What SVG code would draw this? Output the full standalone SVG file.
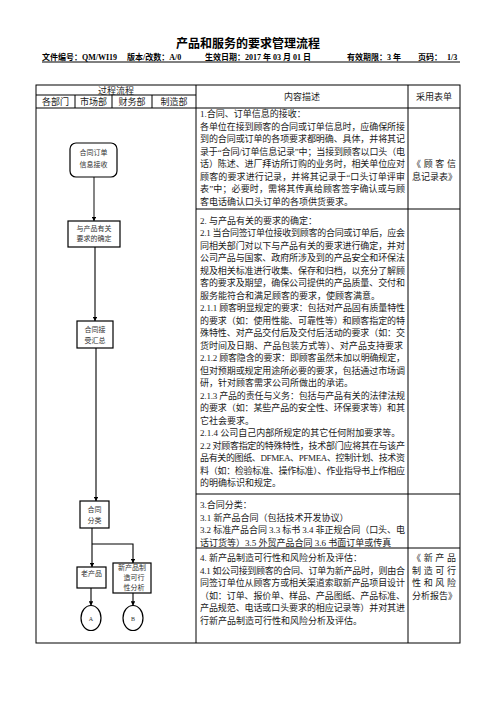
<svg xmlns="http://www.w3.org/2000/svg" width="496" height="702" viewBox="0 0 496 702">
<defs>
<style>
.t{font-family:"Liberation Serif","Noto Sans CJK SC",serif;font-size:9px;fill:#1a1a1a}
.h{font-family:"Liberation Serif","Noto Sans CJK SC",serif;font-size:9px;fill:#1a1a1a;text-anchor:middle}
.s{font-family:"Liberation Serif","Noto Sans CJK SC",serif;font-size:7px;fill:#333;text-anchor:middle}
.hd{font-family:"Liberation Serif","Noto Sans CJK SC",serif;font-size:8px;font-weight:bold;fill:#000}
.ti{font-family:"Liberation Serif","Noto Sans CJK SC",serif;font-size:12px;font-weight:bold;fill:#000;text-anchor:middle}
.ln{stroke:#000;stroke-width:1;fill:none}
.bx{stroke:#000;stroke-width:1.2;fill:#fff}
.cn{stroke:#000;stroke-width:1.1;fill:none}
</style>
<marker id="ah" viewBox="0 0 8 8" refX="7.5" refY="4" markerWidth="4.5" markerHeight="4.5" orient="auto" markerUnits="userSpaceOnUse">
<path d="M0,0 L8,4 L0,8 z" fill="#000"/>
</marker>
</defs>
<rect width="496" height="702" fill="#fff"/>

<g id="title">
<text class="ti" x="248" y="48">产品和服务的要求管理流程</text>
<text class="hd" x="42" y="60">文件编号：QM/WI19</text>
<text class="hd" x="127" y="60">版本/改数：A/0</text>
<text class="hd" x="205" y="60">生效日期：2017 年 03 月 01 日</text>
<text class="hd" x="347" y="60">有效期限：3 年</text>
<text class="hd" x="418" y="60">页码：</text>
<text class="hd" x="447" y="60">1/3</text>
<line class="ln" x1="42" y1="62" x2="460" y2="62"/>
</g>

<g id="table">
<rect class="ln" x="36" y="85" width="424" height="558"/>
<line class="ln" x1="196" y1="85" x2="196" y2="643"/>
<line class="ln" x1="408" y1="85" x2="408" y2="643"/>
<line class="ln" x1="36" y1="95" x2="196" y2="95"/>
<line class="ln" x1="36" y1="108" x2="460" y2="108"/>
<line class="ln" x1="75" y1="95" x2="75" y2="108"/>
<line class="ln" x1="112" y1="95" x2="112" y2="108"/>
<line class="ln" x1="152" y1="95" x2="152" y2="108"/>
<line class="ln" x1="196" y1="209" x2="460" y2="209"/>
<line class="ln" x1="196" y1="494" x2="460" y2="494"/>
<line class="ln" x1="196" y1="548" x2="460" y2="548"/>
<text class="h" x="116" y="93.5">过程流程</text>
<text class="h" x="55.5" y="105">各部门</text>
<text class="h" x="93.5" y="105">市场部</text>
<text class="h" x="132" y="105">财务部</text>
<text class="h" x="174" y="105">制造部</text>
<text class="h" x="302" y="99.5">内容描述</text>
<text class="h" x="434" y="99.5">采用表单</text>
</g>

<g id="content">
<text class="t" x="200" y="117">1.合同、订单信息的接收：</text>
<text class="t" x="200" y="129.5" textLength="205" lengthAdjust="spacing">各单位在接到顾客的合同或订单信息时，应确保所接</text>
<text class="t" x="200" y="142" textLength="205" lengthAdjust="spacing">到的合同或订单的各项要求都明确、具体，并将其记</text>
<text class="t" x="200" y="154.5" textLength="205" lengthAdjust="spacing">录于“合同/订单信息记录”中；当接到顾客以口头（电</text>
<text class="t" x="200" y="167" textLength="205" lengthAdjust="spacing">话）陈述、进厂拜访所订购的业务时，相关单位应对</text>
<text class="t" x="200" y="179.5" textLength="205" lengthAdjust="spacing">顾客的要求进行记录，并将其记录于“口头订单评审</text>
<text class="t" x="200" y="192" textLength="205" lengthAdjust="spacing">表”中；必要时，需将其传真给顾客签字确认或与顾</text>
<text class="t" x="200" y="204.5">客电话确认口头订单的各项供货要求。</text>

<text class="t" x="200" y="223.5">2. 与产品有关的要求的确定：</text>
<text class="t" x="200" y="236" textLength="205" lengthAdjust="spacing">2.1 当合同签订单位接收到顾客的合同或订单后，应会</text>
<text class="t" x="200" y="248.5" textLength="205" lengthAdjust="spacing">同相关部门对以下与产品有关的要求进行确定，并对</text>
<text class="t" x="200" y="261" textLength="205" lengthAdjust="spacing">公司产品与国家、政府所涉及到的产品安全和环保法</text>
<text class="t" x="200" y="273.5" textLength="205" lengthAdjust="spacing">规及相关标准进行收集、保存和归档，以充分了解顾</text>
<text class="t" x="200" y="286" textLength="205" lengthAdjust="spacing">客的要求及期望，确保公司提供的产品质量、交付和</text>
<text class="t" x="200" y="298.5">服务能符合和满足顾客的要求，使顾客满意。</text>
<text class="t" x="200" y="311" textLength="205" lengthAdjust="spacing">2.1.1 顾客明显规定的要求：包括对产品固有质量特性</text>
<text class="t" x="200" y="323.5" textLength="205" lengthAdjust="spacing">的要求（如：使用性能、可靠性等）和顾客指定的特</text>
<text class="t" x="200" y="336" textLength="205" lengthAdjust="spacing">殊特性、对产品交付后及交付后活动的要求（如：交</text>
<text class="t" x="200" y="348.5" textLength="203" lengthAdjust="spacing">货时间及日期、产品包装方式等）、对产品支持要求</text>
<text class="t" x="200" y="361" textLength="205" lengthAdjust="spacing">2.1.2 顾客隐含的要求：即顾客虽然未加以明确规定，</text>
<text class="t" x="200" y="373.5" textLength="205" lengthAdjust="spacing">但对预期或规定用途所必要的要求，包括通过市场调</text>
<text class="t" x="200" y="386">研，针对顾客需求公司所做出的承诺。</text>
<text class="t" x="200" y="398.5" textLength="205" lengthAdjust="spacing">2.1.3 产品的责任与义务：包括与产品有关的法律法规</text>
<text class="t" x="200" y="411" textLength="205" lengthAdjust="spacing">的要求（如：某些产品的安全性、环保要求等）和其</text>
<text class="t" x="200" y="423.5">它社会要求。</text>
<text class="t" x="200" y="436">2.1.4 公司自己内部所规定的其它任何附加要求等。</text>
<text class="t" x="200" y="448.5" textLength="205" lengthAdjust="spacing">2.2 对顾客指定的特殊特性，技术部门应将其在与该产</text>
<text class="t" x="200" y="461" textLength="205" lengthAdjust="spacing">品有关的图纸、DFMEA、PFMEA、控制计划、技术资</text>
<text class="t" x="200" y="473.5" textLength="205" lengthAdjust="spacing">料（如：检验标准、操作标准）、作业指导书上作相应</text>
<text class="t" x="200" y="486">的明确标识和规定。</text>

<text class="t" x="200" y="508">3.合同分类：</text>
<text class="t" x="200" y="520.5">3.1 新产品合同（包括技术开发协议）</text>
<text class="t" x="200" y="533" textLength="205" lengthAdjust="spacing">3.2 标准产品合同 3.3  标书 3.4 非正规合同（口头、电</text>
<text class="t" x="200" y="545.5">话订货等）3.5 外贸产品合同 3.6 书面订单或传真</text>

<text class="t" x="200" y="561">4. 新产品制造可行性和风险分析及评估：</text>
<text class="t" x="200" y="573.5" textLength="205" lengthAdjust="spacing">4.1  如公司接到顾客的合同、订单为新产品时，则由合</text>
<text class="t" x="200" y="586" textLength="205" lengthAdjust="spacing">同签订单位从顾客方或相关渠道索取新产品项目设计</text>
<text class="t" x="200" y="598.5" textLength="205" lengthAdjust="spacing">（如：订单、报价单、样品、产品图纸、产品标准、</text>
<text class="t" x="200" y="611" textLength="205" lengthAdjust="spacing">产品规范、电话或口头要求的相应记录等）并对其进</text>
<text class="t" x="200" y="623.5">行新产品制造可行性和风险分析及评估。</text>
</g>

<g id="forms">
<text class="t" x="412" y="167" textLength="44" lengthAdjust="spacing">《顾客信</text>
<text class="t" x="412" y="179.5">息记录表》</text>
<text class="t" x="412" y="561" textLength="44" lengthAdjust="spacing">《新产品</text>
<text class="t" x="412" y="573.5" textLength="44" lengthAdjust="spacing">制造可行</text>
<text class="t" x="412" y="586" textLength="44" lengthAdjust="spacing">性和风险</text>
<text class="t" x="412" y="598.5">分析报告》</text>
</g>

<g id="connectors">
<line x1="94" y1="177" x2="94" y2="221" stroke="#666" stroke-width="1.6" marker-end="url(#ah)"/>
<line class="cn" x1="95" y1="247" x2="95" y2="321" marker-end="url(#ah)"/>
<line class="cn" x1="96" y1="348" x2="96" y2="501" marker-end="url(#ah)"/>
<line class="cn" x1="92" y1="528" x2="92" y2="567" marker-end="url(#ah)"/>
<polyline class="cn" points="92,544 133,544 133,563" marker-end="url(#ah)"/>
<line class="cn" x1="91" y1="588" x2="91" y2="605.5" marker-end="url(#ah)"/>
<line class="cn" x1="133" y1="593" x2="133" y2="605.5" marker-end="url(#ah)"/>
</g>

<g id="n1">
<rect class="bx" x="70" y="143" width="47" height="34" rx="6"/>
<text class="s" x="93.5" y="154.5">合同订单</text>
<text class="s" x="93.5" y="166.5">信息接收</text>
</g>
<g id="n2">
<rect class="bx" x="68" y="221" width="52" height="26"/>
<text class="s" x="94" y="230.5">与产品有关</text>
<text class="s" x="94" y="240.5">要求的确定</text>
</g>
<g id="n3">
<rect class="bx" x="77" y="321" width="36" height="27"/>
<text class="s" x="95" y="332">合同接</text>
<text class="s" x="95" y="343">受汇总</text>
</g>
<g id="n4">
<rect class="bx" x="80" y="501" width="29" height="27"/>
<text class="s" x="94.5" y="512">合同</text>
<text class="s" x="94.5" y="522.5">分类</text>
</g>
<g id="n5">
<rect class="bx" x="77" y="567" width="29" height="21"/>
<text class="s" x="91.5" y="576">老产品</text>
</g>
<g id="n6">
<rect class="bx" x="113" y="563" width="38" height="30"/>
<text class="s" x="132" y="570">新产品制</text>
<text class="s" x="134" y="580">造可行</text>
<text class="s" x="134" y="590">性分析</text>
</g>
<g id="nA">
<ellipse class="bx" cx="91" cy="618" rx="10" ry="12.5"/>
<text class="s" x="91" y="620.5" style="font-size:6px">A</text>
</g>
<g id="nB">
<ellipse class="bx" cx="133" cy="618" rx="10" ry="12.5"/>
<text class="s" x="133" y="620.5" style="font-size:6px">B</text>
</g>
</svg>
